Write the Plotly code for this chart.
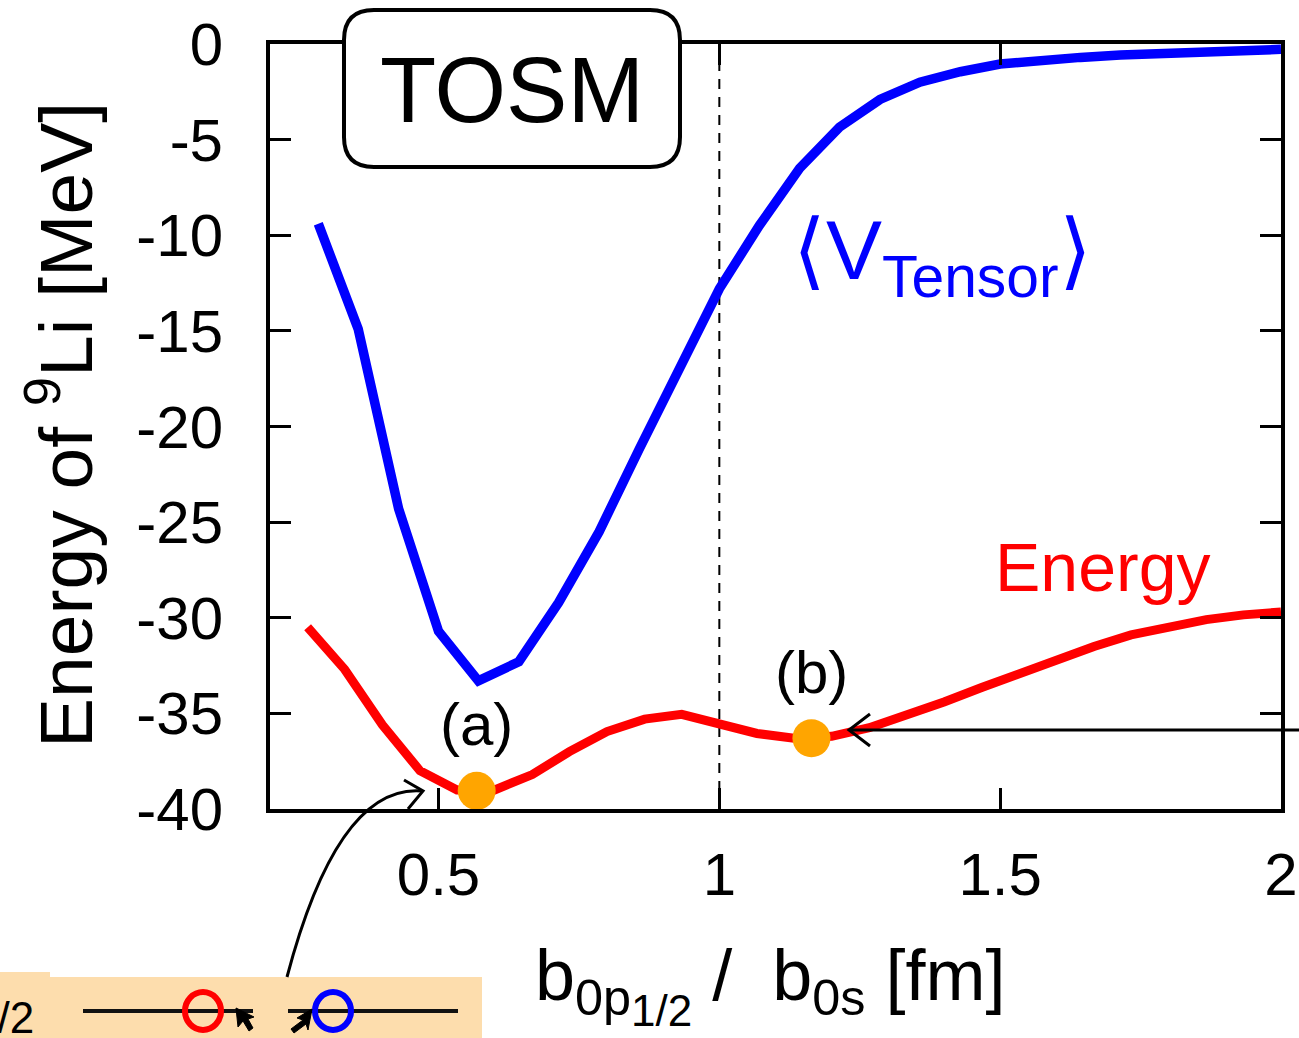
import plotly.graph_objects as go

# ---- data -----------------------------------------------------------------
# <V_Tensor> versus the size-parameter ratio b_0p1/2 / b_0s
tensor_x = [0.286, 0.357, 0.429, 0.5, 0.571, 0.643, 0.714, 0.786, 0.857, 0.929,
            1.0, 1.071, 1.143, 1.214, 1.286, 1.357, 1.429, 1.5, 1.571, 1.643,
            1.714, 1.786, 1.857, 1.929, 2.0]
tensor_v = [-9.4, -14.9, -24.3, -30.7, -33.3, -32.3, -29.2, -25.5, -21.2, -16.9,
            -12.8, -9.5, -6.5, -4.35, -2.9, -2.0, -1.45, -1.05, -0.85, -0.7,
            -0.58, -0.48, -0.4, -0.33, -0.28]

# total energy of 9Li
energy_x = [0.267, 0.333, 0.4, 0.467, 0.533, 0.6, 0.667, 0.733, 0.8, 0.867,
            0.933, 1.0, 1.067, 1.133, 1.2, 1.267, 1.333, 1.4, 1.467, 1.533,
            1.6, 1.667, 1.733, 1.8, 1.867, 1.933, 2.0]
energy_e = [-30.5, -32.7, -35.6, -38.0, -39.0, -39.0, -38.2, -37.0, -35.95, -35.3,
            -35.05, -35.6, -36.05, -36.3, -36.2, -35.75, -35.1, -34.4, -33.65, -32.9,
            -32.15, -31.5, -30.9, -30.45, -30.1, -29.85, -29.7]

# the two local minima
state_x = [0.568, 1.164]
state_e = [-39.05, -36.3]
state_labels = ["(a)", "(b)"]

x_ticks = [0.5, 1, 1.5, 2]
x_ticktext = ["0.5", "1", "1.5", "2"]
y_ticks = [0, -5, -10, -15, -20, -25, -30, -35, -40]
y_ticktext = ["0", "-5", "-10", "-15", "-20", "-25", "-30", "-35", "-40"]

# ---- layout geometry ------------------------------------------------------
FIG_W, FIG_H = 1299, 1038
M_L, M_R, M_T, M_B = 270, 18, 44, 229
PW = FIG_W - M_L - M_R
PH = FIG_H - M_T - M_B
FONT = "Liberation Sans, Arial, Helvetica, sans-serif"


def px(xp):
    return (xp - M_L) / PW


def py(yp):
    return (FIG_H - M_B - yp) / PH


def path(points, close=False):
    s = "M " + " L ".join(f"{px(a):.5f},{py(b):.5f}" for a, b in points)
    return s + (" Z" if close else "")


def rounded_box(x0, y0, x1, y1, r):
    P = lambda a, b: f"{px(a):.5f},{py(b):.5f}"
    return (f"M {P(x0 + r, y0)} L {P(x1 - r, y0)} Q {P(x1, y0)} {P(x1, y0 + r)} "
            f"L {P(x1, y1 - r)} Q {P(x1, y1)} {P(x1 - r, y1)} "
            f"L {P(x0 + r, y1)} Q {P(x0, y1)} {P(x0, y1 - r)} "
            f"L {P(x0, y0 + r)} Q {P(x0, y0)} {P(x0 + r, y0)} Z")


fig = go.Figure()

fig.add_trace(go.Scatter(x=tensor_x, y=tensor_v, mode="lines",
                         line=dict(color="#0000FF", width=9.5), showlegend=False))
fig.add_trace(go.Scatter(x=energy_x, y=energy_e, mode="lines",
                         line=dict(color="#FF0000", width=9), showlegend=False))
fig.add_trace(go.Scatter(x=state_x, y=state_e, mode="markers",
                         marker=dict(color="#FFA500", size=38, line=dict(width=0)),
                         showlegend=False, cliponaxis=False))

shapes = []
# dashed guide at b_0p1/2 = b_0s
shapes.append(dict(type="line", xref="x", yref="paper", x0=1, x1=1, y0=0, y1=1,
                   line=dict(color="black", width=2, dash="10px,8px"), layer="below"))
# label box
shapes.append(dict(type="path", xref="paper", yref="paper",
                   path=rounded_box(344, 10, 680, 167, 30),
                   fillcolor="white", line=dict(color="black", width=4), layer="above"))
# orbital-diagram strip
shapes.append(dict(type="path", xref="paper", yref="paper",
                   path=path([(0, 972), (50, 972), (50, 977), (482, 977), (482, 1040), (0, 1040)], True),
                   fillcolor="#FDDDAD", line=dict(width=0), layer="above"))
shapes.append(dict(type="line", xref="paper", yref="paper",
                   x0=px(83), x1=px(253), y0=py(1011), y1=py(1011),
                   line=dict(color="#111111", width=4), layer="above"))
shapes.append(dict(type="line", xref="paper", yref="paper",
                   x0=px(288), x1=px(458), y0=py(1011), y1=py(1011),
                   line=dict(color="#111111", width=4), layer="above"))
for cx, col in [(203, "#FF0000"), (333, "#0000FF")]:
    shapes.append(dict(type="circle", xref="paper", yref="paper",
                       x0=px(cx - 18), x1=px(cx + 18), y0=py(1011 + 19), y1=py(1011 - 19),
                       line=dict(color=col, width=6), fillcolor="rgba(0,0,0,0)", layer="above"))
# small pointer marks beside the rings
shapes.append(dict(type="path", xref="paper", yref="paper",
                   path=path([(236, 1008), (238, 1027), (243, 1021), (249, 1031), (253, 1028),
                              (248, 1019), (254, 1017)], True),
                   fillcolor="black", line=dict(color="black", width=1), layer="above"))
shapes.append(dict(type="path", xref="paper", yref="paper",
                   path=path([(312, 1009), (297, 1018), (303, 1020), (291, 1029), (294, 1033),
                              (306, 1024), (308, 1030)], True),
                   fillcolor="black", line=dict(color="black", width=1), layer="above"))
# curved pointer from the strip up to minimum (a)
shapes.append(dict(type="path", xref="paper", yref="paper",
                   path=(f"M {px(287):.5f},{py(977):.5f} Q {px(338):.5f},{py(784):.5f} "
                         f"{px(422):.5f},{py(791):.5f}"),
                   line=dict(color="black", width=3), layer="above"))
shapes.append(dict(type="path", xref="paper", yref="paper",
                   path=path([(404, 780), (423, 791), (408, 809)]),
                   line=dict(color="black", width=3), layer="above"))
# straight pointer from the right edge to minimum (b)
shapes.append(dict(type="line", xref="paper", yref="paper",
                   x0=px(849), x1=px(1305), y0=py(730), y1=py(730),
                   line=dict(color="black", width=3), layer="above"))
shapes.append(dict(type="path", xref="paper", yref="paper",
                   path=path([(870, 714), (849, 730), (870, 746)]),
                   line=dict(color="black", width=3), layer="above"))

annotations = []
annotations.append(dict(text="TOSM", xref="paper", yref="paper", x=px(512), y=py(90),
                        showarrow=False, xanchor="center", yanchor="middle",
                        font=dict(family=FONT, size=92, color="black")))
annotations.append(dict(text="⟨V<sub>Tensor</sub>⟩", xref="paper", yref="paper",
                        x=px(942), y=py(256), showarrow=False, xanchor="center",
                        yanchor="middle", font=dict(family=FONT, size=84, color="#0000FF")))
annotations.append(dict(text="Energy", xref="paper", yref="paper", x=px(1102), y=py(567),
                        showarrow=False, xanchor="center", yanchor="middle",
                        font=dict(family=FONT, size=68, color="#FF0000")))
for sx, se, lab in zip(state_x, state_e, state_labels):
    annotations.append(dict(text=lab, x=sx, y=se, xref="x", yref="y", showarrow=False,
                            xanchor="center", yanchor="middle", yshift=66,
                            font=dict(family=FONT, size=60, color="black")))
# axis titles
annotations.append(dict(text="Energy of <sup>9</sup>Li [MeV]", xref="paper", yref="paper",
                        x=px(60), y=py(425), textangle=-90, showarrow=False,
                        xanchor="center", yanchor="middle",
                        font=dict(family=FONT, size=75, color="black")))
annotations.append(dict(text=("b<sub>0p<sub><span style='font-size:44px'>1/2</span></sub></sub>"
                              " /  b<sub>0s</sub> [fm]"),
                        xref="paper", yref="paper", x=px(533), y=py(985),
                        showarrow=False, xanchor="left", yanchor="middle",
                        font=dict(family=FONT, size=72, color="black")))
annotations.append(dict(text="1/2", xref="paper", yref="paper", x=px(36), y=py(1018),
                        showarrow=False, xanchor="right", yanchor="middle",
                        font=dict(family=FONT, size=44, color="black")))

axis_common = dict(showgrid=False, zeroline=False, showline=True, linecolor="black",
                   linewidth=4, mirror="ticks", ticks="inside", ticklen=21, tickwidth=3,
                   tickcolor="black", automargin=False,
                   tickfont=dict(family=FONT, size=60, color="black"))

fig.update_layout(
    width=FIG_W, height=FIG_H,
    margin=dict(l=M_L, r=M_R, t=M_T, b=M_B, pad=0, autoexpand=False),
    paper_bgcolor="white", plot_bgcolor="white",
    xaxis=dict(range=[0.2, 2.0], tickvals=x_ticks, ticktext=x_ticktext,
               ticklabelstandoff=10, **axis_common),
    yaxis=dict(range=[-40, 0], tickvals=y_ticks, ticktext=y_ticktext,
               ticklabelstandoff=31, **axis_common),
    shapes=shapes,
    annotations=annotations,
    showlegend=False,
)

fig.write_html("out.html")
